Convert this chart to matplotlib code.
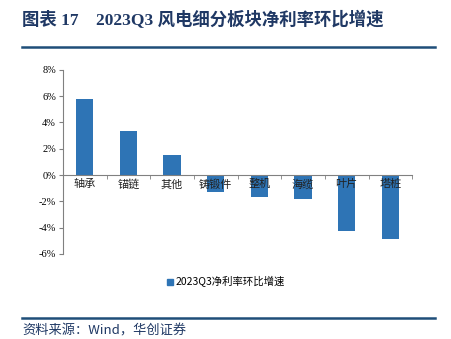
import matplotlib
matplotlib.use("Agg")
import matplotlib.pyplot as plt
import numpy as np
from matplotlib.patches import Rectangle
from matplotlib.lines import Line2D

categories = ["轴承", "锚链", "其他", "铸锻件", "整机", "海缆", "叶片", "塔桩"]
values = [5.78, 3.36, 1.53, -1.32, -1.70, -1.81, -4.25, -4.86]
yticks = [-6, -4, -2, 0, 2, 4, 6, 8]
series_name = "2023Q3净利率环比增速"
title = "图表 17    2023Q3 风电细分板块净利率环比增速"
source = "资料来源：Wind，华创证券"

cjk = ["Noto Sans CJK SC", "DejaVu Sans"]
serif = ["Liberation Serif", "Noto Sans CJK SC"]
plt.rcParams['font.family'] = serif

fig = plt.figure(figsize=(4.52, 3.39), dpi=100)
ax = fig.add_axes([0.139, 0.251, 0.773, 0.543])
ax.set_axisbelow(False)

bar_color = "#2E74B5"
x = np.arange(len(categories))
ax.bar(x, values, width=0.4, color=bar_color, zorder=1)

ax.set_xlim(-0.5, len(categories) - 0.5)
ax.set_ylim(-6, 8)
ax.set_yticks(yticks)
ax.set_yticklabels([f"{v}%" for v in yticks], fontsize=7.5, family=serif)

ax.spines['top'].set_visible(False)
ax.spines['right'].set_visible(False)
ax.spines['bottom'].set_position(('data', 0))
ax.spines['bottom'].set_color('#808080')
ax.spines['left'].set_color('#808080')

ax.set_xticks(x)
ax.set_xticklabels(categories, fontsize=8, family=cjk, color='#222222')
ax.tick_params(axis='x', which='major', length=0, pad=3)
ax.set_xticks(np.arange(-0.5, len(categories)), minor=True)
ax.tick_params(axis='x', which='minor', length=3, direction='out', color='#808080')
ax.tick_params(axis='y', length=3, direction='out', color='#808080', pad=2)

# legend
handle = Rectangle((0, 0), 1, 1, color=bar_color)
fig.legend([handle], [series_name], loc='center', bbox_to_anchor=(0.5, 0.168),
           frameon=False, prop={'family': cjk, 'size': 7.5},
           handlelength=0.6, handleheight=0.6, handletextpad=0.3)

# title
fig.text(0.049, 0.94, title, fontsize=12.5, fontweight='bold', color='#1F3864',
         family=serif, va='center', ha='left')
fig.add_artist(Line2D([0.049, 0.962], [0.862, 0.862], color='#1F4E79', lw=1.8,
                      transform=fig.transFigure))
fig.add_artist(Line2D([0.049, 0.962], [0.062, 0.062], color='#1F4E79', lw=1.8,
                      transform=fig.transFigure))
fig.text(0.049, 0.025, source, fontsize=9.5, style='italic', color='#1F3864',
         family=cjk, va='center', ha='left')

fig.savefig("out.png", dpi=100)
